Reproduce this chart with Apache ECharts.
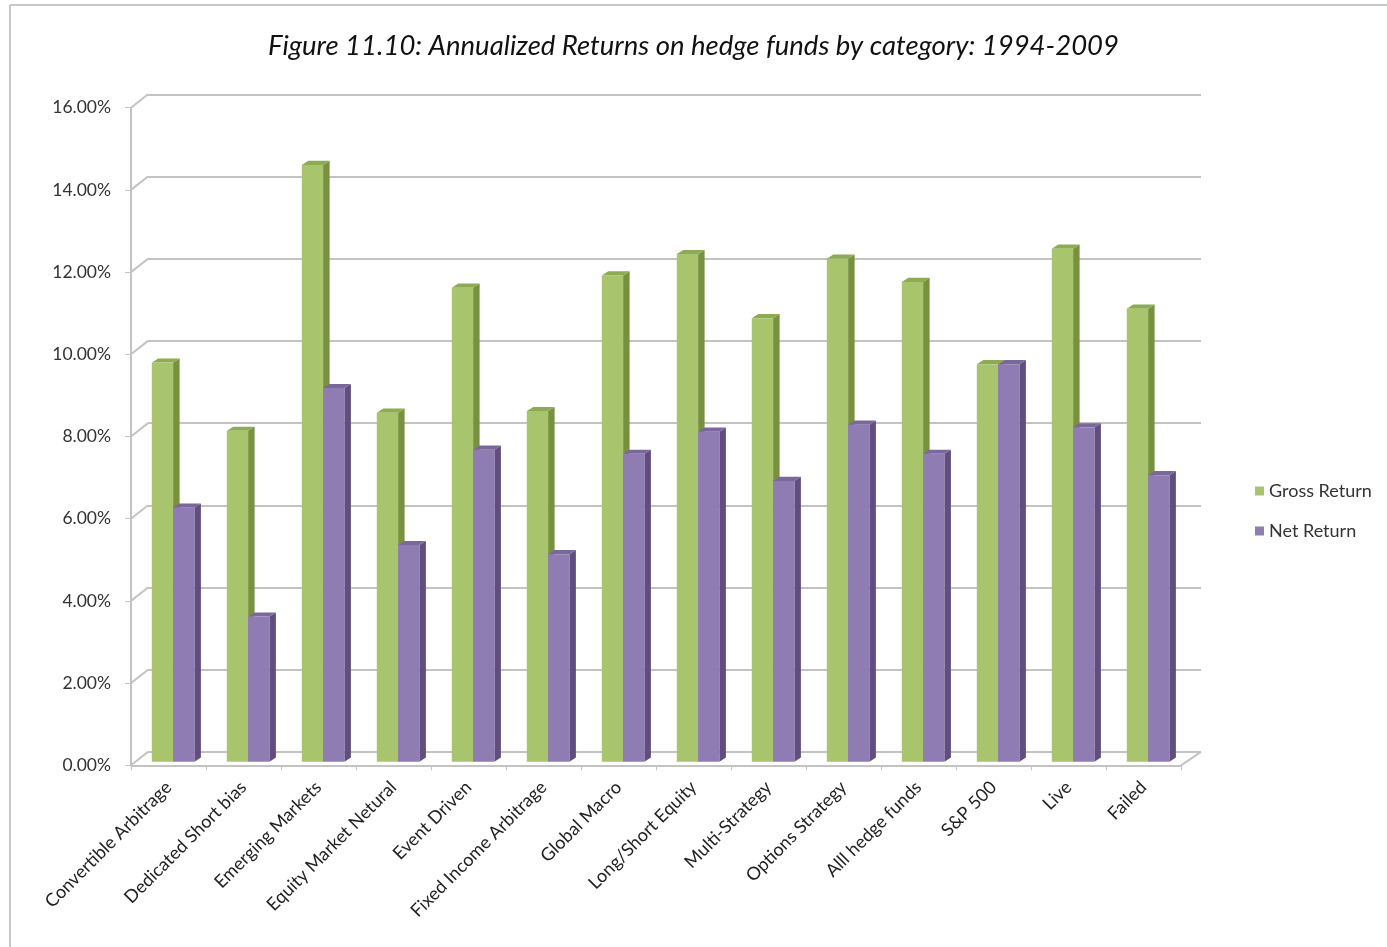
<!DOCTYPE html>
<html>
<head>
<meta charset="utf-8">
<script src="https://cdn.jsdelivr.net/npm/echarts@6/dist/echarts.min.js"></script>
<style>
html,body{margin:0;padding:0;background:#fff;}
#chart{width:1387px;height:947px;}
</style>
</head>
<body>
<div id="chart"></div>
<script>
// ---- data ----
const categories = [
  'Convertible Arbitrage','Dedicated Short bias','Emerging Markets','Equity Market Netural',
  'Event Driven','Fixed Income Arbitrage','Global Macro','Long/Short Equity','Multi-Strategy',
  'Options Strategy','Alll hedge funds','S&P 500','Live','Failed'
];
const grossReturn = [9.71, 8.05, 14.52, 8.49, 11.53, 8.53, 11.83, 12.35, 10.79, 12.24, 11.67, 9.67, 12.48, 11.02];
const netReturn   = [6.18, 3.53, 9.09, 5.27, 7.59, 5.05, 7.49, 8.03, 6.83, 8.20, 7.49, 9.67, 8.13, 6.97];
const yTicks = [0, 2, 4, 6, 8, 10, 12, 14, 16];
const titleText = 'Figure 11.10: Annualized Returns on hedge funds by category: 1994-2009';

// ---- styles ----
const GREEN = {front:'#a8c46c', side:'#77913f', top:'#8dab52'};
const PURPLE = {front:'#8f7cb2', side:'#614d7f', top:'#7a679c'};
const GRID_COLOR = '#c3c3c3';
const WALL_DX = 17, WALL_DY = 13.4;   // back wall offset
const BAR_DX = 4.6, BAR_DY = 3.6;     // bar plane offset
const BAR_W = 21.3, DEPTH_X = 6.5, DEPTH_Y = 4.2;

function barRenderer(colors, side) {
  return function (params, api) {
    const idx = api.value(0), v = api.value(1);
    const p0 = api.coord([idx, 0]);
    const p1 = api.coord([idx, v]);
    const cx = p0[0] + BAR_DX;
    const x0 = side < 0 ? cx - BAR_W : cx;
    const x1 = x0 + BAR_W;
    const yb = p0[1] - BAR_DY, yt = p1[1] - BAR_DY;
    return {
      type: 'group',
      children: [
        {type:'polygon', shape:{points:[[x1,yt],[x1+DEPTH_X,yt-DEPTH_Y],[x1+DEPTH_X,yb-DEPTH_Y],[x1,yb]]}, style:{fill:colors.side}},
        {type:'polygon', shape:{points:[[x0,yt],[x0+DEPTH_X,yt-DEPTH_Y],[x1+DEPTH_X,yt-DEPTH_Y],[x1,yt]]}, style:{fill:colors.top}},
        {type:'rect', shape:{x:x0, y:yt, width:BAR_W, height:yb-yt}, style:{fill:colors.front}}
      ]
    };
  };
}

const chart = echarts.init(document.getElementById('chart'));
chart.setOption({
  backgroundColor: '#fff',
  animation: false,
  title: {
    text: titleText, left: 'center', top: 28,
    textStyle: {fontFamily: 'Lato', fontStyle: 'italic', fontWeight: 'normal', fontSize: 27.5, color: '#111'}
  },
  legend: {
    orient: 'vertical', left: 1250, top: 477, itemGap: 22, itemWidth: 9, itemHeight: 9, icon: 'rect',
    data: ['Gross Return', 'Net Return'],
    textStyle: {fontFamily: 'Lato', fontSize: 18, color: '#333'}
  },
  graphic: [
    {type:'line', shape:{x1:10, y1:5, x2:1387, y2:5}, style:{stroke:'#c8c8c8', lineWidth:2}},
    {type:'line', shape:{x1:10, y1:5, x2:10, y2:947}, style:{stroke:'#c8c8c8', lineWidth:2}}
  ],
  grid: [
    {left: 131, right: 206, top: 107.7, bottom: 181.7},
    {left: 131 + WALL_DX, right: 206 - WALL_DX - 3, top: 107.7 - WALL_DY, bottom: 181.7 + WALL_DY}
  ],
  xAxis: [
    {
      type: 'category', data: categories, gridIndex: 0,
      axisLine: {lineStyle: {color: GRID_COLOR, width: 2}},
      axisTick: {show: true, length: 5, lineStyle: {color: GRID_COLOR}},
      axisLabel: {rotate: 45, fontFamily: 'Lato', fontSize: 18, color: '#222', margin: 19, interval: 0}
    },
    {type: 'category', data: categories, gridIndex: 1, show: false}
  ],
  yAxis: [
    {
      type: 'value', gridIndex: 0, min: 0, max: 16, interval: 2,
      axisLine: {show: true, lineStyle: {color: GRID_COLOR, width: 2}},
      axisTick: {show: true, length: 6, lineStyle: {color: GRID_COLOR}},
      splitLine: {show: false},
      axisLabel: {formatter: v => v.toFixed(2) + '%', fontFamily: 'Lato', fontSize: 17.5, color: '#333', margin: 20}
    },
    {
      type: 'value', gridIndex: 1, min: 0, max: 16, interval: 2,
      axisLine: {show: false}, axisTick: {show: false}, axisLabel: {show: false},
      splitLine: {show: true, lineStyle: {color: GRID_COLOR, width: 2}}
    }
  ],
  series: [
    {
      name: 'wall', type: 'custom', xAxisIndex: 0, yAxisIndex: 0, silent: true,
      data: yTicks.map(v => [0, v]),
      renderItem: function (params, api) {
        const cs = params.coordSys;
        const y = api.coord([0, api.value(1)])[1];
        const children = [
          {type:'line', shape:{x1:cs.x, y1:y, x2:cs.x + WALL_DX, y2:y - WALL_DY}, style:{stroke:GRID_COLOR, lineWidth:2}}
        ];
        if (api.value(1) === 0) {
          const xr = cs.x + cs.width, yb = cs.y + cs.height;
          children.push({type:'line', shape:{x1:xr, y1:yb, x2:xr + WALL_DX + 3, y2:yb - WALL_DY}, style:{stroke:GRID_COLOR, lineWidth:2}});
        }
        return {type:'group', children};
      },
      z: 1
    },
    {
      name: 'Gross Return', type: 'custom', xAxisIndex: 0, yAxisIndex: 0,
      itemStyle: {color: GREEN.front},
      data: grossReturn.map((v, i) => [i, v]),
      renderItem: barRenderer(GREEN, -1), z: 2
    },
    {
      name: 'Net Return', type: 'custom', xAxisIndex: 0, yAxisIndex: 0,
      itemStyle: {color: PURPLE.front},
      data: netReturn.map((v, i) => [i, v]),
      renderItem: barRenderer(PURPLE, 1), z: 3
    }
  ]
});
</script>
</body>
</html>
